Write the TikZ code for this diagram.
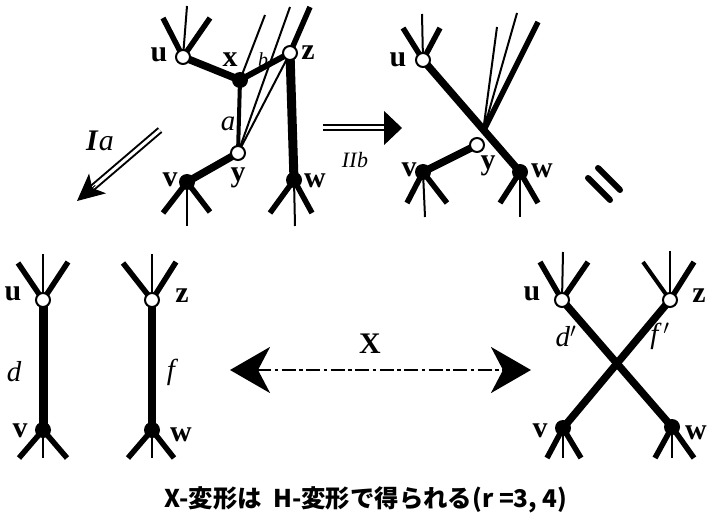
\documentclass[tikz,border=0pt]{standalone}
\usepackage{fontspec}
\setmainfont{Liberation Serif}
\newfontfamily\jp{Noto Sans CJK JP}
\usetikzlibrary{arrows.meta,backgrounds,calc}

\tikzset{
  open/.style={circle, draw, fill=white, line width=2bp, minimum size=14bp, inner sep=0pt},
  full/.style={circle, fill=black, minimum size=16bp, inner sep=0pt},
  fat/.style={line width=7.5bp},
  spoke/.style={line width=5.5bp},
  hair/.style={line width=2bp},
  vlab/.style={font=\fontsize{30}{30}\selectfont\bfseries, inner sep=0pt},
  elab/.style={font=\fontsize{29}{29}\selectfont\itshape, inner sep=0pt},
  dbl/.style={line width=2bp, double distance=3bp},
}

\begin{document}
\begin{tikzpicture}[x=1bp,y=-1bp]
\useasboundingbox (0,0) rectangle (707,522);

% ---------- upper left graph ----------
\node[open] (u1) at (183,57) {};
\node[full] (x1) at (240,80) {};
\node[open] (z1) at (290,53) {};
\node[open] (y1) at (238,153) {};
\node[full] (v1) at (187,182) {};
\node[full] (w1) at (294,180) {};
\coordinate (u1a) at (163,18); \coordinate (u1b) at (187,6); \coordinate (u1c) at (210,18);
\coordinate (z1c) at (310,7);
\coordinate (x1t) at (265,15);
\coordinate (y1t) at (290,7);
\coordinate (v1a) at (163,213); \coordinate (v1b) at (187,226); \coordinate (v1c) at (210,212);
\coordinate (w1a) at (270,213); \coordinate (w1b) at (295,226); \coordinate (w1c) at (312,213);
\begin{pgfonlayer}{background}
  \draw[spoke] (u1.center) -- (u1a) (u1.center) -- (u1c);
  \draw[hair] (u1.center) -- (u1b);
  \draw[spoke] (z1.center) -- (z1c);
  \draw[fat] (u1.center) -- (x1.center);
  \draw[line width=6bp] (x1.center) -- (z1.center);
  \draw[line width=4bp] (x1.center) -- (y1.center);
  \draw[fat] (y1.center) -- (v1.center);
  \draw[line width=9bp] (z1.center) -- (w1.center);
  \draw[hair] (x1.center) -- (x1t);
  \draw[hair] (y1.center) -- (z1.center);
  \draw[hair] (y1.center) -- (y1t);
  \draw[spoke] (v1.center) -- (v1a) (v1.center) -- (v1c);
  \draw[hair] (v1.center) -- (v1b);
  \draw[spoke] (w1.center) -- (w1a) (w1.center) -- (w1c);
  \draw[hair] (w1.center) -- (w1b);
\end{pgfonlayer}
\node[vlab] at (159,55) {u};
\node[vlab] at (230,60) {x};
\node[vlab] at (308,53) {z};
\node[vlab] at (238,178) {y};
\node[vlab] at (170,180) {v};
\node[vlab] at (315,181) {w};
\node[elab] at (228,124) {a};
\node[elab, font=\fontsize{20}{20}\selectfont\itshape] at (263,60) {b};

% ---------- upper right graph ----------
\node[open] (u2) at (423,60) {};
\node[open] (y2) at (477,145) {};
\node[full] (v2) at (423,172) {};
\node[full] (w2) at (520,172) {};
\coordinate (c2) at (483,132);
\coordinate (u2a) at (403,28); \coordinate (u2b) at (422,14); \coordinate (u2c) at (440,28);
\coordinate (c2a) at (497,27); \coordinate (c2b) at (517,13); \coordinate (c2c) at (538,22);
\coordinate (v2a) at (407,203); \coordinate (v2b) at (425,217); \coordinate (v2c) at (447,203);
\coordinate (w2a) at (500,203); \coordinate (w2b) at (520,217); \coordinate (w2c) at (538,203);
\begin{pgfonlayer}{background}
  \draw[spoke] (u2.center) -- (u2a) (u2.center) -- (u2c);
  \draw[hair] (u2.center) -- (u2b);
  \draw[fat] (u2.center) -- (w2.center);
  \draw[fat] (y2.center) -- (v2.center);
  \draw[hair] (c2) -- (c2a) (c2) -- (c2b);
  \draw[spoke] (c2) -- (c2c);
  \draw[spoke] (v2.center) -- (v2a) (v2.center) -- (v2c);
  \draw[hair] (v2.center) -- (v2b);
  \draw[spoke] (w2.center) -- (w2a) (w2.center) -- (w2c);
  \draw[hair] (w2.center) -- (w2b);
\end{pgfonlayer}
\node[vlab] at (398,60) {u};
\node[vlab] at (488,166) {y};
\node[vlab] at (409,170) {v};
\node[vlab] at (542,171) {w};

% ---------- lower left pair ----------
\node[open] (u3) at (43,300) {};
\node[full] (v3) at (43,430) {};
\node[open] (z3) at (152,300) {};
\node[full] (w3) at (152,430) {};
\coordinate (u3a) at (18,263); \coordinate (u3b) at (43,254); \coordinate (u3c) at (68,262);
\coordinate (z3a) at (123,263); \coordinate (z3b) at (152,254); \coordinate (z3c) at (176,262);
\coordinate (v3a) at (19,458); \coordinate (v3b) at (43,458); \coordinate (v3c) at (67,458);
\coordinate (w3a) at (128,458); \coordinate (w3b) at (152,458); \coordinate (w3c) at (174,458);
\begin{pgfonlayer}{background}
  \draw[spoke] (u3.center) -- (u3a) (u3.center) -- (u3c);
  \draw[hair] (u3.center) -- (u3b);
  \draw[spoke] (z3.center) -- (z3a) (z3.center) -- (z3c);
  \draw[hair] (z3.center) -- (z3b);
  \draw[line width=9bp] (u3.center) -- (v3.center);
  \draw[line width=8bp] (z3.center) -- (w3.center);
  \draw[spoke] (v3.center) -- (v3a) (v3.center) -- (v3c);
  \draw[hair] (v3.center) -- (v3b);
  \draw[spoke] (w3.center) -- (w3a) (w3.center) -- (w3c);
  \draw[hair] (w3.center) -- (w3b);
\end{pgfonlayer}
\node[vlab] at (13,294) {u};
\node[vlab] at (20,431) {v};
\node[vlab] at (182,296) {z};
\node[vlab] at (181,435) {w};
\node[elab] at (14,372) {d};
\node[elab] at (171,372) {f};

% ---------- lower right crossing ----------
\node[open] (u4) at (562,300) {};
\node[open] (z4) at (670,300) {};
\node[full] (v4) at (563,428) {};
\node[full] (w4) at (672,427) {};
\coordinate (u4a) at (540,262); \coordinate (u4b) at (563,252); \coordinate (u4c) at (588,262);
\coordinate (z4a) at (643,262); \coordinate (z4b) at (670,251); \coordinate (z4c) at (694,262);
\coordinate (v4a) at (547,458); \coordinate (v4b) at (563,458); \coordinate (v4c) at (581,458);
\coordinate (w4a) at (655,458); \coordinate (w4b) at (672,458); \coordinate (w4c) at (694,458);
\begin{pgfonlayer}{background}
  \draw[spoke] (u4.center) -- (u4a) (u4.center) -- (u4c);
  \draw[hair] (u4.center) -- (u4b);
  \draw[line width=4bp] (z4.center) -- (z4a);
  \draw[spoke] (z4.center) -- (z4c);
  \draw[hair] (z4.center) -- (z4b);
  \draw[fat] (u4.center) -- (w4.center);
  \draw[fat] (z4.center) -- (v4.center);
  \draw[spoke] (v4.center) -- (v4a) (v4.center) -- (v4c);
  \draw[hair] (v4.center) -- (v4b);
  \draw[spoke] (w4.center) -- (w4a) (w4.center) -- (w4c);
  \draw[hair] (w4.center) -- (w4b);
\end{pgfonlayer}
\node[vlab] at (532,294) {u};
\node[vlab] at (699,296) {z};
\node[vlab] at (540,431) {v};
\node[vlab, anchor=east] at (707,433) {w};
\node[elab] at (566,336) {d$'$};
\node[elab] at (660,336) {f\,$'$};

% ---------- transformation arrows ----------
\coordinate (iaS) at (160,130);
\coordinate (iaE) at (77,201);
\draw[dbl, shorten >=18bp] (iaS) -- (iaE);
\draw[line width=1bp, -{Stealth[length=27bp,width=26bp,inset=7bp]}]
  ($(iaE)!24bp!(iaS)$) -- (iaE);
\node[inner sep=0pt] at (100,141)
  {\fontsize{30}{30}\selectfont\bfseries\itshape I\hspace{1bp}\mdseries a};

\coordinate (ibS) at (323,128);
\coordinate (ibE) at (402,128);
\draw[dbl, shorten >=14bp] (ibS) -- (ibE);
\draw[line width=1bp, -{Triangle[length=18bp,width=34bp]}]
  ($(ibE)!17bp!(ibS)$) -- (ibE);
\node[inner sep=0pt] at (355,160)
  {\fontsize{22}{22}\selectfont\itshape II\kern0.5bp b};

% rotated equals sign
\coordinate (eqA) at (588,178); \coordinate (eqB) at (610,200);
\coordinate (eqC) at (598,168); \coordinate (eqD) at (620,190);
\draw[line width=6bp, line cap=round] (eqA) -- (eqB) (eqC) -- (eqD);

% X move
\coordinate (xL) at (230,370);
\coordinate (xR) at (531,370);
\draw[line width=2.8bp, dash pattern=on 14bp off 3.5bp on 3.5bp off 3.5bp,
      {Stealth[length=40bp,width=46bp,inset=12bp]}-{Stealth[length=40bp,width=46bp,inset=12bp]}]
  (xL) -- (xR);
\node[font=\fontsize{30}{30}\selectfont\bfseries, inner sep=0pt] at (370,344) {X};

% caption
\node[inner sep=0pt] at (366,500)
  {\jp\fontsize{24.5}{24.5}\selectfont\bfseries X-変形は\ \ H-変形で得られる(\textit{r}\ =3,\ 4)};
\end{tikzpicture}
\end{document}
